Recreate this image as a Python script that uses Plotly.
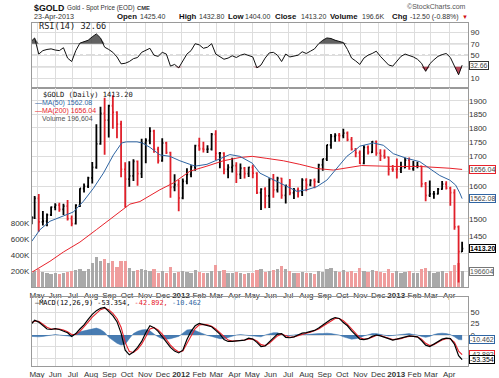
import math
import pandas as pd
import plotly.graph_objects as go

# ---------------- data (weekly samples) ----------------
week_dates = (["2011-04-22"]
              + [d.strftime("%Y-%m-%d") for d in pd.date_range("2011-04-27", "2013-04-17", freq="W-WED")]
              + ["2013-04-23"])

first_open = 1490
close = [
    1504, 1563,
    1491, 1493, 1512, 1536,
    1542, 1529, 1539, 1501,
    1486, 1542, 1594, 1601, 1628,
    1663, 1743, 1852, 1828,
    1881, 1856, 1813, 1656, 1624,
    1635, 1683, 1642, 1746,
    1755, 1788, 1724, 1685,
    1746, 1713, 1598, 1606, 1564,
    1617, 1640, 1665, 1737,
    1726, 1724, 1725, 1776,
    1710, 1711, 1656, 1663, 1669,
    1640, 1660, 1642, 1663,
    1644, 1581, 1592, 1571,
    1623, 1590, 1627, 1572, 1604,
    1580, 1590, 1584, 1621,
    1606, 1620, 1616, 1671, 1691,
    1739, 1769, 1773, 1772,
    1781, 1758, 1725, 1712,
    1676, 1731, 1714, 1751, 1711,
    1702, 1697, 1657, 1656,
    1656, 1662, 1687, 1658,
    1667, 1667, 1609, 1572,
    1577, 1577, 1592, 1608, 1595,
    1581, 1476, 1405, 1413.20,
]
high = [
    1508, 1570,
    1577, 1524, 1516, 1538,
    1548, 1549, 1546, 1558,
    1510, 1545, 1595, 1610, 1632,
    1681, 1813, 1877, 1911,
    1885, 1921, 1860, 1825, 1680,
    1683, 1690, 1686, 1761,
    1763, 1802, 1793, 1733,
    1763, 1750, 1716, 1640, 1622,
    1626, 1660, 1670, 1740,
    1764, 1750, 1738, 1781,
    1791, 1715, 1714, 1673, 1695,
    1680, 1676, 1664, 1665,
    1672, 1647, 1595, 1598,
    1627, 1641, 1632, 1629, 1606,
    1625, 1596, 1597, 1627,
    1627, 1624, 1626, 1675, 1692,
    1740, 1778, 1780, 1781,
    1796, 1787, 1767, 1729,
    1720, 1738, 1737, 1753, 1755,
    1724, 1723, 1699, 1671,
    1693, 1682, 1695, 1696,
    1684, 1682, 1668, 1615,
    1620, 1586, 1596, 1618, 1617,
    1600, 1592, 1480, 1432.80,
]
low = [
    1484, 1500,
    1462, 1480, 1478, 1509,
    1526, 1522, 1512, 1495,
    1478, 1483, 1536, 1581, 1596,
    1610, 1658, 1740, 1705,
    1765, 1796, 1763, 1630, 1535,
    1600, 1618, 1603, 1628,
    1677, 1742, 1712, 1676,
    1682, 1708, 1565, 1585, 1523,
    1560, 1608, 1630, 1652,
    1719, 1713, 1711, 1720,
    1688, 1660, 1640, 1627, 1646,
    1612, 1625, 1626, 1631,
    1627, 1577, 1527, 1532,
    1533, 1565, 1581, 1562, 1547,
    1573, 1561, 1566, 1570,
    1585, 1601, 1595, 1612, 1652,
    1684, 1726, 1750, 1751,
    1763, 1752, 1720, 1697,
    1674, 1673, 1706, 1711, 1702,
    1684, 1692, 1636, 1648,
    1626, 1644, 1660, 1655,
    1652, 1660, 1598, 1554,
    1567, 1562, 1575, 1590, 1591,
    1540, 1468, 1321, 1404.00,
]
volume = [
    180000, 200000,
    230000, 190000, 170000, 160000,
    170000, 160000, 180000, 190000,
    200000, 210000, 230000, 200000, 220000,
    300000, 380000, 330000, 350000,
    300000, 330000, 250000, 320000, 330000,
    240000, 200000, 210000, 230000,
    210000, 200000, 220000, 180000,
    200000, 180000, 250000, 170000, 190000,
    200000, 190000, 180000, 210000,
    190000, 180000, 170000, 200000,
    280000, 200000, 210000, 180000, 180000,
    190000, 170000, 160000, 170000,
    180000, 210000, 230000, 190000,
    200000, 210000, 220000, 260000, 230000,
    200000, 180000, 170000, 190000,
    180000, 170000, 160000, 200000, 190000,
    220000, 240000, 200000, 190000,
    210000, 190000, 200000, 180000,
    240000, 200000, 190000, 210000, 200000,
    190000, 180000, 220000, 170000,
    200000, 180000, 190000, 200000,
    180000, 170000, 230000, 240000,
    200000, 180000, 190000, 200000, 170000,
    200000, 280000, 300000, 196604,
]
rsi = [
    75, 80,
    52, 58, 60, 61,
    59, 58, 63, 45,
    39, 58, 71, 74, 76,
    82, 87, 80, 64,
    60, 55, 47, 35, 36,
    39, 44, 46, 55,
    58, 62, 50, 48,
    55, 52, 31, 34, 28,
    40, 52, 58, 70,
    68, 62, 64, 70,
    52, 47, 43, 45, 49,
    46, 50, 52, 50,
    47, 28, 33, 45,
    54, 55, 50, 39, 52,
    47, 49, 50, 56,
    53, 57, 61, 70, 76,
    80, 79, 76, 74,
    72, 60, 45, 40,
    34, 45, 50, 53, 57,
    48, 41, 33, 31,
    39, 48, 52, 50,
    47, 43, 36, 22,
    35, 42, 48, 51, 53,
    46, 30, 16, 32.66,
]
macd = [
    25, 32,
    28, 21, 13, 12,
    14, 12, 9, 5,
    -3, 3, 13, 22, 34,
    45, 53, 58, 60,
    52, 42, 29, 4, -33,
    -43, -37, -27, -14,
    5, 20, 16, 8,
    -4, -16, -27, -35, -39,
    -33, -10, 8, 20,
    25, 23, 21, 18,
    10, 2, -10, -14, -14,
    -13, -12, -11, -7,
    -9, -16, -25, -24,
    -15, -6, 2, 3, -5,
    -6, -4, 0, 4,
    5, 7, 10, 15, 21,
    28, 34, 38, 36,
    27, 20, 9, 0,
    -9, -10, -8, -3, 0,
    -2, -5, -9, -11,
    -9, -7, -4, -2,
    -3, -4, -12, -22,
    -25, -20, -14, -9, -7,
    -8, -20, -45, -53.354,
]
signal = [
    27, 30,
    30, 24, 17, 13,
    13, 13, 11, 7,
    1, 1, 8, 17, 28,
    39, 48, 55, 58,
    55, 47, 36, 17, -16,
    -36, -38, -31, -20,
    -4, 13, 16, 11,
    2, -10, -22, -31, -37,
    -35, -19, 0, 14,
    22, 23, 22, 19,
    13, 5, -5, -11, -13,
    -13, -12, -11, -9,
    -9, -13, -21, -23,
    -18, -10, -2, 2, -2,
    -5, -4, -1, 2,
    4, 6, 9, 13, 19,
    25, 31, 36, 36,
    31, 23, 13, 3,
    -6, -9, -8, -5, -1,
    -1, -4, -7, -10,
    -9, -8, -5, -3,
    -3, -4, -9, -18,
    -23, -21, -16, -11, -8,
    -8, -16, -35, -42.892,
]
hist = [
    -3, -4,
    -4, -3, -2, -1,
    1, 0, -1, -2,
    -3, 3, 7, 9, 11,
    13, 15, 12, 6,
    -5, -12, -18, -22, -20,
    -8, 3, 8, 11,
    12, 9, 2, -4,
    -8, -9, -8, -6, -3,
    4, 11, 12, 10,
    6, 2, -1, -3,
    -6, -8, -8, -5, -2,
    0, 1, 0, -2,
    -2, -3, -4, 0,
    3, 5, 5, 2, -2,
    -1, 0, 1, 2,
    1, 2, 2, 3, 3,
    4, 3, 2, 0,
    -4, -7, -9, -8,
    -6, -2, 1, 3, 3,
    1, -1, -2, -1,
    0, 2, 3, 3,
    1, 0, -3, -5,
    -3, 1, 3, 4, 3,
    1, -4, -10, -10.462,
]

ma50_dates = ["2011-04-22", "2011-05-06", "2011-05-23", "2011-06-15", "2011-07-02", "2011-07-19",
              "2011-08-05", "2011-08-22", "2011-09-08", "2011-09-22", "2011-09-30", "2011-10-18",
              "2011-10-27", "2011-11-09", "2011-11-26", "2011-12-13", "2011-12-30", "2012-01-16",
              "2012-01-25", "2012-02-14", "2012-03-07", "2012-03-24", "2012-04-10", "2012-05-01",
              "2012-05-14", "2012-05-31", "2012-06-23", "2012-07-16", "2012-08-02", "2012-08-19",
              "2012-09-05", "2012-09-22", "2012-10-09", "2012-10-26", "2012-10-31", "2012-11-23",
              "2012-12-10", "2012-12-27", "2013-01-19", "2013-02-10", "2013-02-27", "2013-03-16",
              "2013-04-02", "2013-04-12", "2013-04-19", "2013-04-23"]
ma50_vals = [1434, 1468, 1493, 1508, 1521, 1554,
             1595, 1644, 1705, 1746, 1750, 1750,
             1746, 1731, 1705, 1700, 1685, 1673,
             1667, 1673, 1693, 1706, 1700, 1677,
             1644, 1628, 1606, 1585, 1590, 1600,
             1621, 1660, 1700, 1726, 1735, 1746,
             1738, 1709, 1693, 1682, 1660, 1636,
             1621, 1605, 1580, 1562.08]

ma200_dates = ["2011-04-22", "2011-05-23", "2011-06-15", "2011-07-13", "2011-08-10", "2011-09-08",
               "2011-10-06", "2011-10-23", "2011-11-26", "2011-12-19", "2012-01-16", "2012-02-14",
               "2012-03-13", "2012-04-10", "2012-05-01", "2012-05-26", "2012-06-23", "2012-07-21",
               "2012-08-19", "2012-09-16", "2012-10-14", "2012-11-03", "2012-12-27", "2013-02-10",
               "2013-04-02", "2013-04-23"]
ma200_vals = [1348, 1378, 1404, 1432, 1468, 1506,
              1545, 1553, 1590, 1612, 1650, 1667,
              1685, 1696, 1700, 1693, 1685, 1673,
              1659, 1654, 1664, 1669, 1666, 1666,
              1660, 1656.04]

month_ticks = ["2011-05-01", "2011-06-01", "2011-07-01", "2011-08-01", "2011-09-01", "2011-10-01",
               "2011-11-01", "2011-12-01", "2012-01-01", "2012-02-01", "2012-03-01", "2012-04-01",
               "2012-05-01", "2012-06-01", "2012-07-01", "2012-08-01", "2012-09-01", "2012-10-01",
               "2012-11-01", "2012-12-01", "2013-01-01", "2013-02-01", "2013-03-01", "2013-04-01"]
month_labels = ["May", "Jun", "Jul", "Aug", "Sep", "Oct", "Nov", "Dec", "<b>2012</b>", "Feb", "Mar", "Apr",
                "May", "Jun", "Jul", "Aug", "Sep", "Oct", "Nov", "Dec", "<b>2013</b>", "Feb", "Mar", "Apr"]

price_ticks = [1350, 1400, 1450, 1500, 1550, 1600, 1650, 1700, 1750, 1800, 1850, 1900]
price_labels = ["", "", "1450", "1500", "", "1600", "", "1700", "1750", "1800", "1850", "1900"]
volume_ticks = [200000, 400000, 600000, 800000]
volume_labels = ["200K", "400K", "600K", "800K"]
rsi_ticks = [10, 30, 50, 70, 90]
rsi_labels = ["10", "", "50", "70", "90"]
macd_ticks = [-50, -25, 0, 25, 50]
macd_labels = ["", "", "0", "25", "50"]
RSI_HIGH, RSI_MID, RSI_LOW = 70, 50, 30

# ---------------- styling ----------------
W, H = 499, 378
ML, MR = 32, 31
PW = W - ML - MR
SANS = "Liberation Sans, Arial, sans-serif"
MONO = "DejaVu Sans Mono, monospace"
BLUE = "#2f65a3"
RED = "#e8222b"
GRID = "#dddddd"
FRAME = "#9a9a9a"
X_RANGE = ["2011-04-22 12:00", "2013-05-03"]


def py(px):
    return 1 - px / H


def pxx(px):
    return (px - ML) / PW


n = len(week_dates)
opens = [first_open] + close[:-1]

fig = go.Figure()

# ---- RSI panel ----
fig.add_trace(go.Scatter(x=week_dates, y=[RSI_HIGH] * n, mode="lines", line=dict(width=0),
                         xaxis="x", yaxis="y", hoverinfo="skip"))
fig.add_trace(go.Scatter(x=week_dates, y=[max(v, RSI_HIGH) for v in rsi], mode="lines",
                         line=dict(width=0), fill="tonexty", fillcolor="rgba(70,70,70,0.85)",
                         xaxis="x", yaxis="y", hoverinfo="skip"))
fig.add_trace(go.Scatter(x=week_dates, y=[RSI_LOW] * n, mode="lines", line=dict(width=0),
                         xaxis="x", yaxis="y", hoverinfo="skip"))
fig.add_trace(go.Scatter(x=week_dates, y=[min(v, RSI_LOW) for v in rsi], mode="lines",
                         line=dict(width=0), fill="tonexty", fillcolor="rgba(170,40,60,0.85)",
                         xaxis="x", yaxis="y", hoverinfo="skip"))
fig.add_trace(go.Scatter(x=week_dates, y=rsi, mode="lines", line=dict(color="#111", width=1),
                         xaxis="x", yaxis="y"))

# ---- volume (base of price panel) ----
vol_colors = ["#a9a9a9" if c >= o else "#ef9d9d" for o, c in zip(opens, close)]
fig.add_trace(go.Bar(x=week_dates, y=volume, marker=dict(color=vol_colors, line=dict(width=0)),
                     width=5.5 * 86400000, xaxis="x2", yaxis="y2"))

# ---- price ----
fig.add_trace(go.Scatter(x=ma200_dates, y=ma200_vals, mode="lines", line=dict(color=RED, width=1),
                         xaxis="x2", yaxis="y3"))
fig.add_trace(go.Scatter(x=ma50_dates, y=ma50_vals, mode="lines", line=dict(color=BLUE, width=1),
                         xaxis="x2", yaxis="y3"))
fig.add_trace(go.Ohlc(x=week_dates, open=opens, high=high, low=low, close=close,
                      increasing=dict(line=dict(color="#000000", width=1.8)),
                      decreasing=dict(line=dict(color="#e0202a", width=1.8)),
                      tickwidth=0.4, xaxis="x2", yaxis="y3"))

# ---- MACD ----
fig.add_trace(go.Scatter(x=week_dates, y=hist, mode="lines", line=dict(color="#3a74b0", width=0.5),
                         fill="tozeroy", fillcolor="rgba(52,110,170,0.9)", xaxis="x3", yaxis="y4"))
fig.add_trace(go.Scatter(x=week_dates, y=signal, mode="lines", line=dict(color=RED, width=1.1),
                         xaxis="x3", yaxis="y4"))
fig.add_trace(go.Scatter(x=week_dates, y=macd, mode="lines", line=dict(color="#000", width=1.2),
                         xaxis="x3", yaxis="y4"))

tickfont = dict(family=SANS, size=8, color="#333")
xcommon = dict(type="date", range=X_RANGE, tickmode="array", tickvals=month_ticks, ticktext=month_labels,
               tickangle=0, showgrid=True, gridcolor=GRID, gridwidth=1, showline=True, mirror=True,
               linecolor=FRAME, linewidth=1, ticks="", tickfont=tickfont, zeroline=False)

price_lo, price_hi = 1309, 1949

fig.update_layout(
    width=W, height=H, margin=dict(l=ML, r=MR, t=0, b=0),
    paper_bgcolor="white", plot_bgcolor="white", showlegend=False, bargap=0,
    xaxis=dict(xcommon, anchor="y", domain=[0, 1], showticklabels=False),
    xaxis2=dict(xcommon, anchor="y2", domain=[0, 1], showticklabels=True, rangeslider=dict(visible=False)),
    xaxis3=dict(xcommon, anchor="y4", domain=[0, 1], showticklabels=True),
    yaxis=dict(domain=[py(88), py(23)], range=[-7, 106], side="right", tickmode="array",
               tickvals=rsi_ticks, ticktext=rsi_labels, showgrid=True, gridcolor=GRID, showline=True,
               mirror=True, linecolor=FRAME, zeroline=False, tickfont=tickfont, ticks=""),
    yaxis2=dict(domain=[py(287), py(88)], range=[0, 2487500], side="left", tickmode="array",
                tickvals=volume_ticks, ticktext=volume_labels, showgrid=False, showline=True,
                mirror=True, linecolor=FRAME, zeroline=False, tickfont=tickfont, ticks=""),
    yaxis3=dict(overlaying="y2", anchor="x2", type="log", side="right",
                range=[math.log10(price_lo), math.log10(price_hi)], tickmode="array",
                tickvals=price_ticks, ticktext=price_labels, showgrid=True,
                gridcolor=GRID, zeroline=False, showline=False, tickfont=tickfont, ticks=""),
    yaxis4=dict(domain=[py(366), py(297)], range=[-67.4, 82.6], side="right", tickmode="array",
                tickvals=macd_ticks, ticktext=macd_labels, showgrid=True, gridcolor=GRID, showline=True,
                mirror=True, linecolor=FRAME, zeroline=False, tickfont=tickfont, ticks=""),
)

# RSI reference levels
for lvl, dash, col in [(RSI_HIGH, "solid", "#8a8a8a"), (RSI_LOW, "solid", "#8a8a8a"), (RSI_MID, "dashdot", "#8a8a8a")]:
    fig.add_shape(type="line", xref="x domain", yref="y", x0=0, x1=1, y0=lvl, y1=lvl,
                  line=dict(color=col, width=1, dash=dash), layer="below")

ann = []


def text(x, y, s, size=7, color="#222", family=SANS, anchor="left"):
    ann.append(dict(xref="paper", yref="paper", x=pxx(x), y=py(y), text=s, showarrow=False,
                    xanchor=anchor, yanchor="middle", font=dict(family=family, size=size, color=color)))


# header
text(32, 7.5, "<b>$GOLD</b>", size=8.8, color="#111")
text(65, 8, "Gold - Spot Price (EOD)", size=6.3, color="#333")
text(135, 8.3, "<b>CME</b>", size=5.8, color="#333")
text(468, 6.5, "©StockCharts.com", size=7, color="#555", anchor="right")
text(32, 16.8, "23-Apr-2013", size=7.2, color="#333")
hdr = [(115, "<b>Open</b>", 7.8, "#111"), (138, "1425.40", 7, "#333"),
       (177, "<b>High</b>", 7.8, "#111"), (197, "1432.80", 7, "#333"),
       (226, "<b>Low</b>", 7.8, "#111"), (243, "1404.00", 7, "#333"),
       (273, "<b>Close</b>", 7.8, "#111"), (299, "1413.20", 7, "#333"),
       (328, "<b>Volume</b>", 7.8, "#111"), (360, "196.6K", 7, "#333"),
       (390, "<b>Chg</b>", 7.8, "#111"), (408, "-12.50 (-0.88%)", 7, "#333"),
       (460, "▼", 6, "#d01010")]
for x, s, sz, c in hdr:
    text(x, 16.8, s, size=sz, color=c)

# panel legends
text(37, 25.8, "RSI(14) %.2f" % rsi[-1], size=8.6, color="#222", family=MONO)
text(41, 94.7, "$GOLD (Daily) %.2f" % close[-1], size=7.1, color="#111", family=MONO)
text(33, 102.7, "—MA(50) %.2f" % ma50_vals[-1], size=7, color=BLUE)
text(33, 110.7, "—MA(200) %.2f" % ma200_vals[-1], size=7, color=RED)
text(40, 118.3, "Volume {:,}".format(volume[-1]), size=7, color="#555")
text(33, 303.2, "<span style='color:#000'>—MACD(12,26,9) %.3f, </span><span style='color:%s'>%.3f, </span>"
     "<span style='color:%s'>%.3f</span>" % (macd[-1], RED, signal[-1], BLUE, hist[-1]),
     size=6.9, color="#000", family=MONO)


def tag(yref, y, s, border, color="#444", bold=False):
    ann.append(dict(xref="paper", yref=yref, x=1, y=y, text=("<b>%s</b>" % s) if bold else s,
                    showarrow=False, xanchor="left", yanchor="middle", xshift=1,
                    font=dict(family=SANS, size=7, color=color), bgcolor="white",
                    bordercolor=border, borderwidth=1, borderpad=0))


tag("y", rsi[-1], "%.2f" % rsi[-1], "#333")
tag("y3", math.log10(ma200_vals[-1]), "%.2f" % ma200_vals[-1], RED)
tag("y3", math.log10(ma50_vals[-1]), "%.2f" % ma50_vals[-1], BLUE)
tag("y3", math.log10(close[-1]), "%.2f" % close[-1], "#000", color="#000", bold=True)
tag("y2", volume[-1], "%d" % volume[-1], "#777", color="#555")
tag("y4", hist[-1], "%.3f" % hist[-1], BLUE)
tag("y4", signal[-1], "%.3f" % signal[-1], RED)
tag("y4", macd[-1], "%.3f" % macd[-1], "#000", color="#000")

fig.update_layout(annotations=ann)
fig.write_html("out.html", config={"displayModeBar": False},
               post_script="document.body.style.margin='0px';document.body.style.padding='0px';")
